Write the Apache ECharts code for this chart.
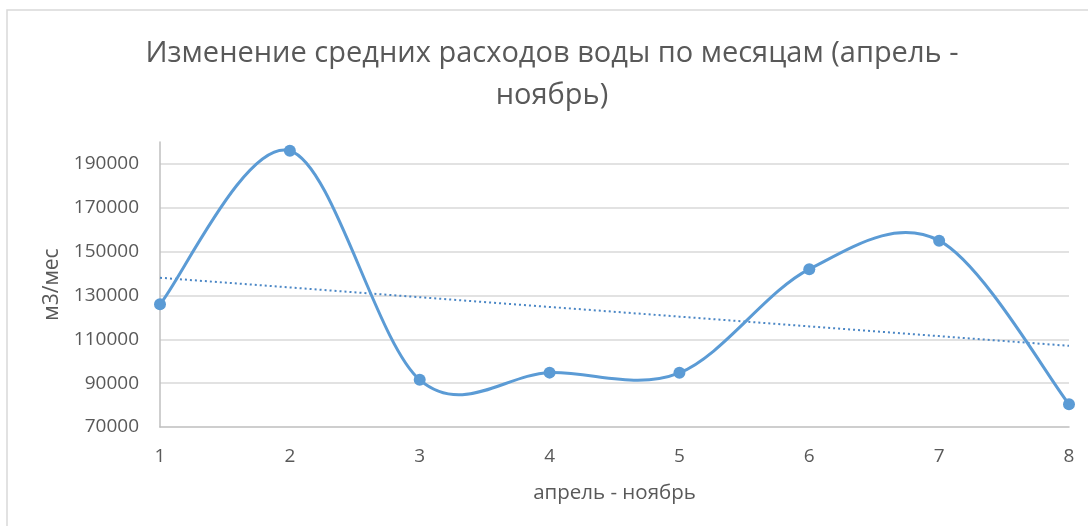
<!DOCTYPE html>
<html>
<head>
<meta charset="utf-8">
<script src="https://cdn.jsdelivr.net/npm/echarts@6/dist/echarts.min.js"></script>
<style>
  html, body { margin: 0; padding: 0; background: #fff; }
  #chart { width: 1088px; height: 526px; }
</style>
</head>
<body>
<div id="chart"></div>
<script>
// Months April..November numbered 1..8
const months = ['1', '2', '3', '4', '5', '6', '7', '8'];
// Average water consumption, m3 per month
const consumption = [126000, 196000, 91500, 94800, 94700, 142000, 155000, 80400];
const yTicks = { min: 70000, max: 200000, step: 20000 };
const chartTitle = 'Изменение средних расходов воды по месяцам (апрель -\nноябрь)';

// Least-squares linear trend over the series
function linearTrend(values) {
  const n = values.length;
  const xs = values.map((_, i) => i + 1);
  const mx = xs.reduce((a, b) => a + b, 0) / n;
  const my = values.reduce((a, b) => a + b, 0) / n;
  let sxy = 0, sxx = 0;
  for (let i = 0; i < n; i++) {
    sxy += (xs[i] - mx) * (values[i] - my);
    sxx += (xs[i] - mx) * (xs[i] - mx);
  }
  const k = sxy / sxx;
  return xs.map(x => my + k * (x - mx));
}
const trend = linearTrend(consumption);

const textColor = '#595959';
const lineColor = '#5b9bd5';
const font = '"Open Sans", "Noto Sans", sans-serif';

// Smoothed curve segment between point i and i+1 (Catmull-Rom style
// Bezier in screen space), built from the axis-mapped data points.
function renderSegment(params, api) {
  const i = params.dataIndex;
  const n = consumption.length;
  if (i >= n - 1) return null;
  const pt = j => {
    const k = Math.max(0, Math.min(n - 1, j));
    return api.coord([k, consumption[k]]);
  };
  const p0 = pt(i - 1), p1 = pt(i), p2 = pt(i + 1), p3 = pt(i + 2);
  const c1 = [p1[0] + (p2[0] - p0[0]) / 6, p1[1] + (p2[1] - p0[1]) / 6];
  const c2 = [p2[0] - (p3[0] - p1[0]) / 6, p2[1] - (p3[1] - p1[1]) / 6];
  return {
    type: 'bezierCurve',
    shape: {
      x1: p1[0], y1: p1[1], x2: p2[0], y2: p2[1],
      cpx1: c1[0], cpy1: c1[1], cpx2: c2[0], cpy2: c2[1]
    },
    style: { stroke: lineColor, lineWidth: 3, fill: null, lineCap: 'round' },
    silent: true
  };
}

const chart = echarts.init(document.getElementById('chart'), null, { renderer: 'canvas' });
chart.setOption({
  animation: false,
  backgroundColor: '#fff',
  graphic: [
    {
      type: 'polyline',
      shape: { points: [[7, 530], [7, 10], [1090, 10]] },
      style: { stroke: '#d9d9d9', lineWidth: 1.5, fill: null },
      silent: true
    },
    {
      // chart title, two centred lines
      type: 'text',
      x: 552,
      y: 33,
      style: {
        text: chartTitle,
        align: 'center',
        verticalAlign: 'top',
        fontFamily: font,
        fontSize: 29,
        lineHeight: 42,
        fill: textColor
      },
      silent: true
    }
  ],
  grid: { left: 160, right: 19, top: 142, bottom: 99, containLabel: false },
  xAxis: {
    type: 'category',
    data: months,
    boundaryGap: false,
    name: 'апрель - ноябрь',
    nameLocation: 'middle',
    nameGap: 56,
    nameTextStyle: { fontFamily: font, fontSize: 20.5, color: textColor },
    axisLine: { show: true, lineStyle: { color: '#bfbfbf', width: 1.5 } },
    axisTick: { show: false },
    axisLabel: { fontFamily: font, fontSize: 19, color: textColor, margin: 20 },
    splitLine: { show: false }
  },
  yAxis: {
    type: 'value',
    min: yTicks.min,
    max: yTicks.max,
    interval: yTicks.step,
    name: 'м3/мес',
    nameLocation: 'middle',
    nameGap: 84,
    nameRotate: 90,
    nameTextStyle: { fontFamily: font, fontSize: 21, color: textColor },
    axisLine: { show: true, lineStyle: { color: '#bfbfbf', width: 1.5 } },
    axisTick: { show: false },
    axisLabel: {
      fontFamily: font, fontSize: 19, color: textColor, margin: 21,
      showMaxLabel: false,
      formatter: v => String(v)
    },
    splitLine: { show: true, showMaxLine: false, showMinLine: false, lineStyle: { color: '#d9d9d9', width: 1.5 } }
  },
  series: [
    {
      name: 'Линейный тренд',
      type: 'line',
      data: trend,
      symbol: 'none',
      lineStyle: { color: '#4a86c5', width: 2, type: [2, 3] },
      z: 2
    },
    {
      name: 'Кривая',
      type: 'custom',
      data: consumption,
      renderItem: renderSegment,
      clip: false,
      z: 3
    },
    {
      name: 'Расход',
      type: 'line',
      data: consumption,
      symbol: 'circle',
      symbolSize: 12,
      clip: false,
      lineStyle: { opacity: 0, width: 0 },
      itemStyle: { color: lineColor },
      z: 4
    }
  ]
});
</script>
</body>
</html>
